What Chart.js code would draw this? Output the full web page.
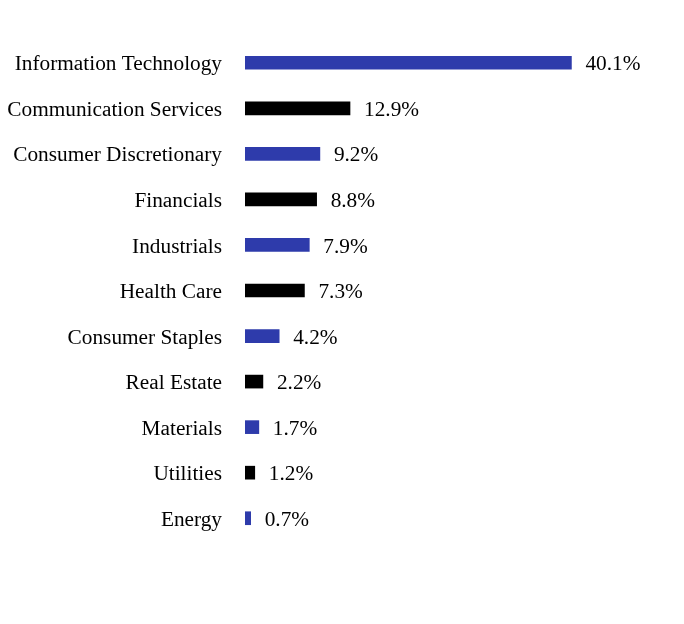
<!DOCTYPE html>
<html lang="en">
  <head>
    <meta charset="UTF-8" />
    <title>Sector Allocation</title>
    <style>
      html, body { margin: 0; padding: 0; background: #fff; }
      #wrap { width: 684px; height: 624px; position: relative; }
    </style>
  </head>
  <body>
    <div id="wrap"><canvas id="myChart"></canvas></div>
    <script src="https://cdn.jsdelivr.net/npm/chart.js@4/dist/chart.umd.min.js"></script>
    <script>
      var sectors = [
        "Information Technology",
        "Communication Services",
        "Consumer Discretionary",
        "Financials",
        "Industrials",
        "Health Care",
        "Consumer Staples",
        "Real Estate",
        "Materials",
        "Utilities",
        "Energy"
      ];
      var weights = [40.1, 12.9, 9.2, 8.8, 7.9, 7.3, 4.2, 2.2, 1.7, 1.2, 0.7];
      var barColors = ["#2e3bab", "#000000"];

      var fontFamily = "'Liberation Serif', 'Times New Roman', serif";

      // value labels at the end of each bar
      var valueLabels = {
        id: "valueLabels",
        afterDatasetsDraw: function (chart) {
          var ctx = chart.ctx;
          var meta = chart.getDatasetMeta(0);
          ctx.save();
          ctx.font = "21.3px " + fontFamily;
          ctx.fillStyle = "#000";
          ctx.textAlign = "left";
          ctx.textBaseline = "middle";
          meta.data.forEach(function (bar, i) {
            ctx.fillText(weights[i].toFixed(1) + "%", bar.x + 14, bar.y + 2);
          });
          ctx.restore();
        }
      };

      var ctx = document.getElementById("myChart").getContext("2d");
      new Chart(ctx, {
        type: "bar",
        data: {
          labels: sectors,
          datasets: [
            {
              data: weights,
              backgroundColor: sectors.map(function (s, i) {
                return barColors[i % 2];
              }),
              barThickness: 13
            }
          ]
        },
        options: {
          indexAxis: "y",
          responsive: true,
          maintainAspectRatio: false,
          animation: false,
          layout: { padding: { top: 40, bottom: 83, left: 0, right: 32 } },
          plugins: {
            legend: { display: false },
            tooltip: { enabled: false }
          },
          scales: {
            x: {
              min: 0,
              max: 50,
              display: false,
              grid: { display: false }
            },
            y: {
              grid: { display: false, drawTicks: false },
              border: { display: false },
              ticks: {
                color: "#000",
                padding: 23,
                labelOffset: 2,
                font: { family: fontFamily, size: 21.3 }
              },
              afterFit: function (scale) {
                scale.width = 245;
              }
            }
          }
        },
        plugins: [valueLabels]
      });
    </script>
  </body>
</html>
